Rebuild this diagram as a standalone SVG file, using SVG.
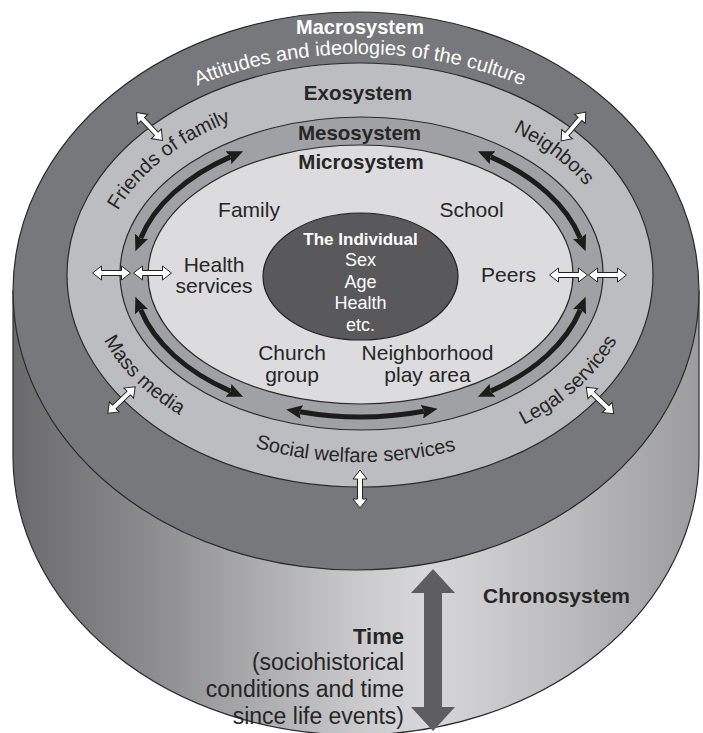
<svg xmlns="http://www.w3.org/2000/svg" xmlns:xlink="http://www.w3.org/1999/xlink" width="703" height="733" viewBox="0 0 703 733">
<style>
.t{font-family:"Liberation Sans",Arial,Helvetica,sans-serif;fill:#262626}
.lbl{font-size:21px}
.ex{font-size:20px}
.b{font-weight:bold}
.w{fill:#fff}
.ring{stroke:#2a2a2a;stroke-width:1.2}
.blk{fill:none;stroke:#1c1c1c;stroke-width:5;marker-start:url(#ah);marker-end:url(#ah)}
.wa{fill:#fff;stroke:#222;stroke-width:1}
</style>
<defs>
<linearGradient id="side" x1="0" y1="0" x2="1" y2="0">
<stop offset="0" stop-color="#6a6a6c"/>
<stop offset="0.2" stop-color="#8c8c8e"/>
<stop offset="0.5" stop-color="#c9c9cb"/>
<stop offset="0.6" stop-color="#d8d8da"/>
<stop offset="0.8" stop-color="#bdbdbf"/>
<stop offset="1" stop-color="#9c9c9e"/>
</linearGradient>
<marker id="ah" markerUnits="userSpaceOnUse" markerWidth="18" markerHeight="14" refX="2" refY="7" orient="auto-start-reverse">
<path d="M0,0 L16,7 L0,14 L2.5,7 Z" fill="#1c1c1c"/>
</marker>
<path id="wa" d="M-19,0 L-10,-7 L-10,-2.5 L10,-2.5 L10,-7 L19,0 L10,7 L10,2.5 L-10,2.5 L-10,7 Z"/>
<path id="pMacro" d="M40,283 A320,229 0 0 1 680,283"/>
<path id="pExoTop" d="M100.5,274 A260,176 0 0 1 620.5,274"/>
<path id="pExoBot" d="M86.5,274 A274,188 0 0 0 634.5,274"/>
</defs>

<g id="chronosystem">
<path d="M13,291 L13,456 A343,279 0 0 0 699,456 L699,291 Z" fill="url(#side)" stroke="#2a2a2a" stroke-width="1.2"/>
<path d="M433,569 L455,593 L442,593 L442,707 L455,707 L433,731 L411,707 L424,707 L424,593 L411,593 Z" fill="#5e5e60"/>
<text class="t b" x="483" y="603" style="font-size:21px">Chronosystem</text>
<text class="t b" x="404" y="644" text-anchor="end" style="font-size:22px">Time</text>
<text class="t" x="404" y="670" text-anchor="end" style="font-size:23px">(sociohistorical</text>
<text class="t" x="404" y="697" text-anchor="end" style="font-size:23px">conditions and time</text>
<text class="t" x="404" y="724" text-anchor="end" style="font-size:23px">since life events)</text>
</g>

<g id="macrosystem">
<ellipse class="ring" cx="356" cy="291" rx="343" ry="279" fill="#77787b"/>
<text class="t b w" x="360" y="34" text-anchor="middle" style="font-size:20px">Macrosystem</text>
<text class="t w ex"><textPath href="#pMacro" startOffset="50%" text-anchor="middle">Attitudes and ideologies of the culture</textPath></text>
</g>

<g id="exosystem">
<ellipse class="ring" cx="360" cy="275" rx="293" ry="212" fill="#bcbdc0"/>
<text class="t b" x="358" y="100" text-anchor="middle" style="font-size:20.5px">Exosystem</text>
<text class="t ex"><textPath href="#pExoTop" startOffset="20.2%" text-anchor="middle">Friends of family</textPath></text>
<text class="t ex"><textPath href="#pExoTop" startOffset="79.4%" text-anchor="middle">Neighbors</textPath></text>
<text class="t ex"><textPath href="#pExoBot" startOffset="16.8%" text-anchor="middle">Mass media</textPath></text>
<text class="t ex"><textPath href="#pExoBot" startOffset="49.3%" text-anchor="middle">Social welfare services</textPath></text>
<text class="t ex"><textPath href="#pExoBot" startOffset="81.8%" text-anchor="middle">Legal services</textPath></text>
</g>

<g id="mesosystem">
<ellipse class="ring" cx="361.5" cy="273.5" rx="241.5" ry="156.5" fill="#a0a1a4"/>
<text class="t b" x="359.5" y="140" text-anchor="middle" style="font-size:20.5px">Mesosystem</text>
</g>

<g id="microsystem">
<ellipse class="ring" cx="360.5" cy="274.5" rx="212.5" ry="129.5" fill="#dcdcde"/>
<text class="t b" x="361" y="169" text-anchor="middle" style="font-size:20.5px">Microsystem</text>
<text class="t lbl" x="249" y="217" text-anchor="middle">Family</text>
<text class="t lbl" x="471.5" y="217" text-anchor="middle">School</text>
<text class="t lbl" x="214" y="272" text-anchor="middle">Health</text>
<text class="t lbl" x="214" y="293" text-anchor="middle">services</text>
<text class="t lbl" x="508.5" y="282" text-anchor="middle">Peers</text>
<text class="t lbl" x="292" y="360" text-anchor="middle">Church</text>
<text class="t lbl" x="292" y="382" text-anchor="middle">group</text>
<text class="t lbl" x="427.5" y="360" text-anchor="middle">Neighborhood</text>
<text class="t lbl" x="427.5" y="382" text-anchor="middle">play area</text>
</g>

<g id="individual">
<ellipse cx="360.5" cy="276.5" rx="97.5" ry="63.5" fill="#59595b" stroke="#222" stroke-width="1.2"/>
<text class="t b w" x="360.5" y="245" text-anchor="middle" style="font-size:17px">The Individual</text>
<text class="t w" x="360.5" y="266" text-anchor="middle" style="font-size:18px">Sex</text>
<text class="t w" x="360.5" y="288" text-anchor="middle" style="font-size:18px">Age</text>
<text class="t w" x="360.5" y="309" text-anchor="middle" style="font-size:18px">Health</text>
<text class="t w" x="360.5" y="331" text-anchor="middle" style="font-size:18px">etc.</text>
</g>

<g id="connectors">
<path class="blk" d="M140.7,238.2 A227,143 0 0 1 230.3,156.9"/>
<path class="blk" d="M490.7,156.9 A227,143 0 0 1 580.3,238.2"/>
<path class="blk" d="M140.7,309.8 A227,143 0 0 0 230.3,391.1"/>
<path class="blk" d="M490.7,391.1 A227,143 0 0 0 580.3,309.8"/>
<path class="blk" d="M299.9,411.8 A227,143 0 0 0 423.8,411.3"/>
<use href="#wa" class="wa" transform="translate(111.5,273)"/>
<use href="#wa" class="wa" transform="translate(152.5,273)"/>
<use href="#wa" class="wa" transform="translate(568.5,275)"/>
<use href="#wa" class="wa" transform="translate(607.5,275)"/>
<use href="#wa" class="wa" transform="translate(149.5,126.5) rotate(47)"/>
<use href="#wa" class="wa" transform="translate(573.5,126.5) rotate(-49.6)"/>
<use href="#wa" class="wa" transform="translate(121.5,400) rotate(-43.9)"/>
<use href="#wa" class="wa" transform="translate(600,400.5) rotate(43.9)"/>
<use href="#wa" class="wa" transform="translate(360,489) rotate(90)"/>
</g>
</svg>
